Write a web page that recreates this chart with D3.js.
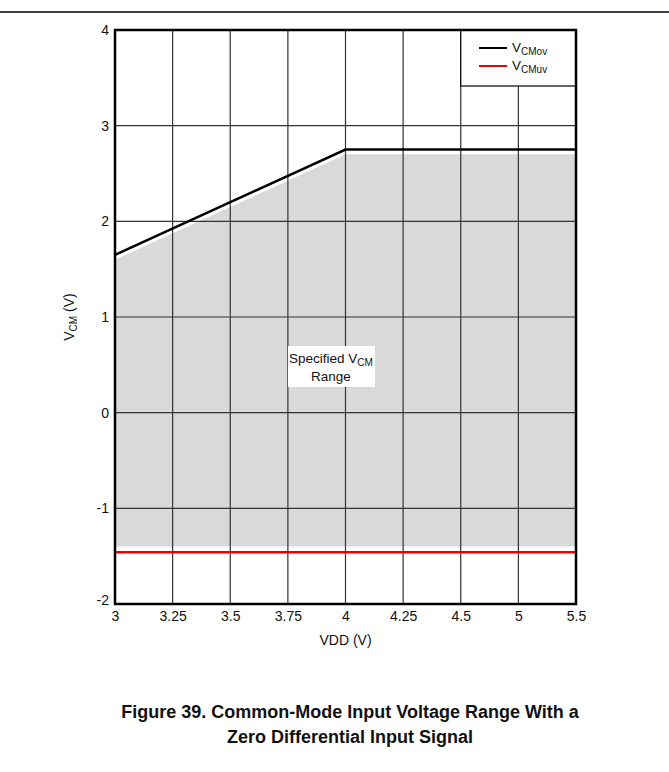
<!DOCTYPE html>
<html><head><meta charset="utf-8">
<script src="https://cdn.jsdelivr.net/npm/d3@7"></script>
<style>body{margin:0;background:#fff;} svg{display:block;font-family:"Liberation Sans",Arial,sans-serif;}</style>
</head><body>
<svg id="c" width="669" height="772"></svg>
<script>
// ---- data ----
const xTickLabels = ["3","3.25","3.5","3.75","4","4.25","4.5","5","5.5"];
const yTicks = [-2,-1,0,1,2,3,4];
const ovX = ["3","4","5.5"];
const ovY = [1.65, 2.75, 2.75];
const uvX = ["3","5.5"];
const uvY = [-1.46, -1.46];
const rangeX = ["3","4","5.5"];
const rangeTop = [1.6, 2.7, 2.7];
const rangeBottom = [-1.4, -1.4, -1.4];
const seriesNames = ["CMov","CMuv"];
const seriesColors = ["#000000","#ee0000"];

const FF = "Liberation Sans, Arial, sans-serif";
const svg = d3.select("#c");
const L = 115, R = 576, T = 30, B = 604;
const x = d3.scalePoint().domain(xTickLabels).range([L, R]);
const y = d3.scaleLinear().domain([-2, 4]).range([B, T]);

// header rule
svg.append("line").attr("x1",0).attr("x2",669).attr("y1",12).attr("y2",12)
  .attr("stroke","#000").attr("stroke-width",1.3);

// shaded range
const areaData = rangeX.map((d,i)=>({x:d, t:rangeTop[i], b:rangeBottom[i]}));
svg.append("path").datum(areaData)
  .attr("d", d3.area().x(d=>x(d.x)).y0(d=>y(d.b)).y1(d=>y(d.t)))
  .attr("fill","#d9d9d9");

// grid
const g = svg.append("g");
g.selectAll("line.v").data(xTickLabels.slice(1,-1)).join("line")
  .attr("x1",d=>x(d)).attr("x2",d=>x(d)).attr("y1",T).attr("y2",B)
  .attr("stroke","#333").attr("stroke-width",1.2);
g.selectAll("line.h").data(yTicks.slice(1,-1)).join("line")
  .attr("x1",L).attr("x2",R).attr("y1",d=>y(d)).attr("y2",d=>y(d))
  .attr("stroke","#333").attr("stroke-width",1.2);

// lines
const line = d3.line().x(d=>x(d[0])).y(d=>y(d[1]));
svg.append("path").datum(ovX.map((d,i)=>[d,ovY[i]])).attr("d",line)
  .attr("fill","none").attr("stroke",seriesColors[0]).attr("stroke-width",2.5);
svg.append("path").datum(uvX.map((d,i)=>[d,uvY[i]])).attr("d",line)
  .attr("fill","none").attr("stroke",seriesColors[1]).attr("stroke-width",2.5);

// label box
svg.append("rect").attr("x",288).attr("y",346).attr("width",87).attr("height",41).attr("fill","#fff");
const lt = svg.append("text").attr("x",331).attr("y",363).attr("text-anchor","middle").attr("font-size",13.5).attr("fill","#111");
lt.append("tspan").text("Specified V");
lt.append("tspan").text("CM").attr("font-size",10).attr("dy",3);
svg.append("text").attr("x",331).attr("y",381).attr("text-anchor","middle").attr("font-size",13.5).attr("fill","#111").text("Range");

// legend
const lgX = x("4.5");
svg.append("rect").attr("x",lgX).attr("y",T).attr("width",R-lgX).attr("height",56)
  .attr("fill","#fff").attr("stroke","#000").attr("stroke-width",1.2);
seriesNames.forEach((n,i)=>{
  const ly = 48 + i*18;
  svg.append("line").attr("x1",479).attr("x2",507).attr("y1",ly).attr("y2",ly)
    .attr("stroke",seriesColors[i]).attr("stroke-width",2);
  const t = svg.append("text").attr("x",512).attr("y",ly+4).attr("font-size",13.5).attr("fill","#111");
  t.append("tspan").text("V");
  t.append("tspan").text(n).attr("font-size",10).attr("dy",3);
});

// frame
svg.append("rect").attr("x",L).attr("y",T).attr("width",R-L).attr("height",B-T)
  .attr("fill","none").attr("stroke","#000").attr("stroke-width",2.5);

// axes tick labels
const xAxis = d3.axisBottom(x).tickSize(0).tickPadding(7);
const xa = svg.append("g").attr("transform",`translate(0,${B})`).call(xAxis);
xa.select(".domain").remove();
xa.selectAll("text").attr("font-size",14).attr("fill","#111").attr("font-family",FF);
const yAxis = d3.axisLeft(y).tickValues(yTicks).tickSize(0).tickPadding(6).tickFormat(d=>String(d));
const ya = svg.append("g").attr("transform",`translate(${L},0)`).call(yAxis);
ya.select(".domain").remove();
ya.selectAll("text").attr("font-size",14).attr("fill","#111").attr("font-family",FF)
  .attr("dy", d=> d===-2 ? "0em" : "0.32em");

// axis titles
svg.append("text").attr("x",(L+R)/2).attr("y",645).attr("text-anchor","middle").attr("font-size",14).attr("fill","#111").text("VDD (V)");
const yt = svg.append("text").attr("transform",`translate(74,${(T+B)/2}) rotate(-90)`).attr("text-anchor","middle").attr("font-size",14).attr("fill","#111");
yt.append("tspan").text("V");
yt.append("tspan").text("CM").attr("font-size",10).attr("dy",3);
yt.append("tspan").text(" (V)").attr("dy",-3);

// caption
svg.append("text").attr("x",350).attr("y",718).attr("text-anchor","middle").attr("font-size",18).attr("font-weight","bold").attr("fill","#111")
  .text("Figure 39. Common-Mode Input Voltage Range With a");
svg.append("text").attr("x",350).attr("y",743).attr("text-anchor","middle").attr("font-size",18).attr("font-weight","bold").attr("fill","#111")
  .text("Zero Differential Input Signal");
</script>
</body></html>
